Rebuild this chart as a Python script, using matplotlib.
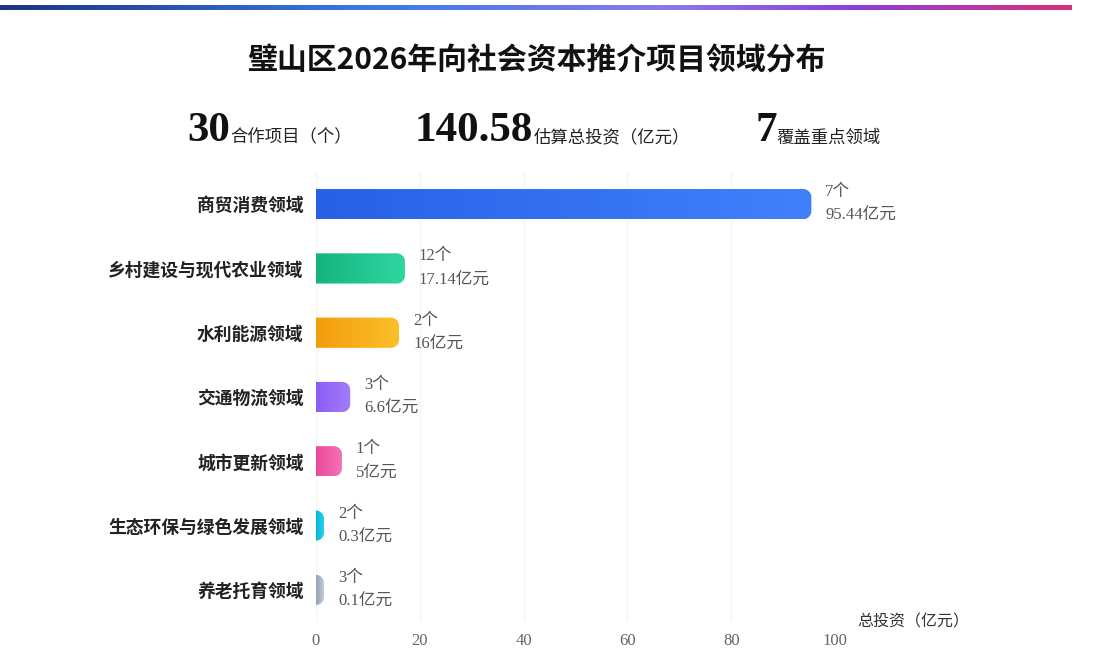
import numpy as np
import matplotlib
matplotlib.use("Agg")
import matplotlib.pyplot as plt
from matplotlib.path import Path
from matplotlib.patches import PathPatch
from matplotlib.colors import LinearSegmentedColormap

# ---------------- data ----------------
categories = ["商贸消费领域", "乡村建设与现代农业领域", "水利能源领域", "交通物流领域",
              "城市更新领域", "生态环保与绿色发展领域", "养老托育领域"]
investment = [95.44, 17.14, 16, 6.6, 5, 0.3, 0.1]
project_counts = [7, 12, 2, 3, 1, 2, 3]
value_labels = ["95.44", "17.14", "16", "6.6", "5", "0.3", "0.1"]
x_ticks = [0, 20, 40, 60, 80, 100]
stat_values = ["30", "140.58", "7"]
stat_labels = ["合作项目（个）", "估算总投资（亿元）", "覆盖重点领域"]
title = "璧山区2026年向社会资本推介项目领域分布"
x_axis_name = "总投资（亿元）"

bar_colors = [("#2860e6", "#4081fb"), ("#14b47f", "#30d6a0"), ("#f39c0b", "#fcc02a"),
              ("#8b5cf6", "#a57cfb"), ("#ec4899", "#f472b6"), ("#06b6d4", "#22d3ee"),
              ("#94a3b8", "#c3ccd8")]

CJK = "Noto Sans CJK SC"
SERIF = ["Liberation Serif", CJK]

W, H = 1110, 670
fig = plt.figure(figsize=(W / 100, H / 100), dpi=100)
fig.patch.set_facecolor("white")

# ---------- top gradient stripe ----------
sax = fig.add_axes([0, 1 - 10 / H, 1072 / W, 5 / H])
sax.set_axis_off()
stripe_cmap = LinearSegmentedColormap.from_list(
    "stripe", [(0, "#1c3580"), (0.35, "#3b7be8"), (0.62, "#8a7ae8"), (0.8, "#8b3fd8"), (1, "#d6307a")])
grad = np.linspace(0, 1, 512).reshape(1, -1)
sax.imshow(grad, cmap=stripe_cmap, aspect="auto", extent=[0, 1, 0, 1])
sax.set_xlim(0, 1)
sax.set_ylim(0, 1)

# ---------- title & stats ----------
fig.text(536 / W, 1 - 61 / H, title, ha="center", va="center",
         fontsize=21.5, fontweight="bold", family=[CJK], color="#111111")

stat_x = [187, 415, 755]
for sx, val, lab in zip(stat_x, stat_values, stat_labels):
    t = fig.text(sx / W, 1 - 141 / H, val, ha="left", va="baseline",
                 fontsize=31, fontweight="bold", family=SERIF, color="#111111")
    plt.annotate(lab, xy=(1, 0), xycoords=t, xytext=(0, 5.5), textcoords="offset points",
                 ha="left", va="baseline", fontsize=12.5, family=[CJK], color="#222222")

# ---------- main axes ----------
ax_left, ax_right = 316, 835
ax_top, ax_bot = 172, 622
ax = fig.add_axes([ax_left / W, 1 - ax_bot / H, (ax_right - ax_left) / W, (ax_bot - ax_top) / H])
ax.set_xlim(0, 100)
n = len(categories)
ax.set_ylim(n - 0.5, -0.5)
for s in ax.spines.values():
    s.set_visible(False)
ax.set_xticks(x_ticks)
ax.set_xticklabels([str(v) for v in x_ticks], family=SERIF, fontsize=12, color="#666666")
ax.tick_params(axis="x", length=0, pad=8)
ax.set_yticks(range(n))
ax.set_yticklabels(categories, family=[CJK], fontsize=12.8, fontweight="bold", color="#222222")
ax.tick_params(axis="y", length=0, pad=9)
ax.grid(axis="x", color="#f4f4f4", linewidth=1)
ax.set_axisbelow(True)

px_x = (ax_right - ax_left) / 100.0
px_y = (ax_bot - ax_top) / float(n)
bar_h = 0.47
radius_px = 8
min_px = 8
k = 0.5523

for i, (v, cnt, lab, (c0, c1)) in enumerate(zip(investment, project_counts, value_labels, bar_colors)):
    w = max(v, min_px / px_x)
    rx = min(radius_px / px_x, w)
    ry = radius_px / px_y
    y0, y1 = i - bar_h / 2, i + bar_h / 2
    verts = [(0, y0), (w - rx, y0),
             (w - rx + k * rx, y0), (w, y0 + ry - k * ry), (w, y0 + ry),
             (w, y1 - ry),
             (w, y1 - ry + k * ry), (w - rx + k * rx, y1), (w - rx, y1),
             (0, y1), (0, y0)]
    codes = [Path.MOVETO, Path.LINETO,
             Path.CURVE4, Path.CURVE4, Path.CURVE4,
             Path.LINETO,
             Path.CURVE4, Path.CURVE4, Path.CURVE4,
             Path.LINETO, Path.CLOSEPOLY]
    patch = PathPatch(Path(verts, codes), facecolor="none", edgecolor="none")
    ax.add_patch(patch)
    cm = LinearSegmentedColormap.from_list("b%d" % i, [c0, c1])
    im = ax.imshow(grad, cmap=cm, aspect="auto", extent=[0, w, y1, y0], zorder=3)
    im.set_clip_path(patch)
    ax.annotate("%d个" % cnt, xy=(w, i), xytext=(14 * 0.72, 12 * 0.72), textcoords="offset points",
                ha="left", va="center", fontsize=12, family=SERIF, color="#555555")
    ax.annotate(lab + "亿元", xy=(w, i), xytext=(14 * 0.72, -12 * 0.72), textcoords="offset points",
                ha="left", va="center", fontsize=12, family=SERIF, color="#555555")

ax.set_xlim(0, 100)
ax.set_ylim(n - 0.5, -0.5)

fig.text(857 / W, 1 - 622 / H, x_axis_name, ha="left", va="center",
         fontsize=11.5, family=[CJK], color="#333333")

fig.savefig("out.png", dpi=100, facecolor="white")
